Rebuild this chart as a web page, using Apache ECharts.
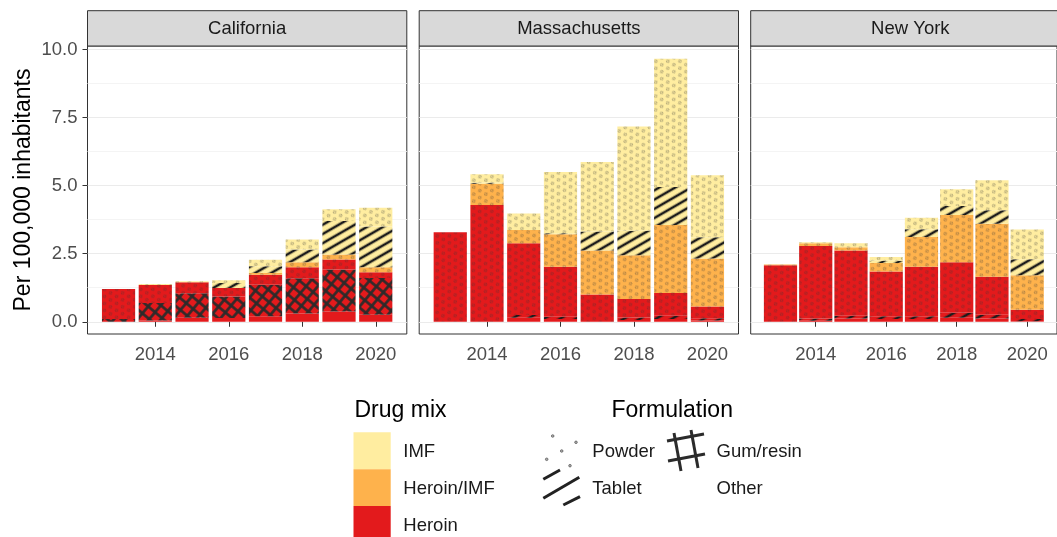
<!DOCTYPE html>
<html>
<head>
<meta charset="utf-8">
<script src="https://cdn.jsdelivr.net/npm/echarts@6/dist/echarts.min.js"></script>
<style>
  html, body { margin: 0; padding: 0; background: #fff; }
  #chart { width: 1057px; height: 537px; }
</style>
</head>
<body>
<div id="chart"></div>
<script>
// ---- data ----
const years = [2013, 2014, 2015, 2016, 2017, 2018, 2019, 2020];
const states = ['California', 'Massachusetts', 'New York'];
const xTicks = [2014, 2016, 2018, 2020];
const yTicks = [0, 2.5, 5, 7.5, 10];
const yMinorTicks = [1.25, 3.75, 6.25, 8.75];

// California
const caHeroinOther  = [0, 0.05, 0.15, 0.14, 0.20, 0.30, 0.38, 0.26];
const caHeroinGum    = [0.10, 0.64, 0.90, 0.79, 1.16, 1.30, 1.54, 1.35];
const caHeroinPowder = [1.10, 0.66, 0.40, 0.31, 0.37, 0.40, 0.37, 0.21];
const caMixPowder    = [0, 0, 0, 0, 0.06, 0.19, 0.18, 0.18];
const caImfTablet    = [0, 0, 0, 0.18, 0.25, 0.46, 1.23, 1.50];
const caImfPowder    = [0, 0.04, 0.04, 0.10, 0.24, 0.37, 0.43, 0.69];

// Massachusetts
const maHeroinOther  = [0, 0, 0.15, 0.10, 0, 0.06, 0.10, 0.05];
const maHeroinTablet = [0, 0, 0.10, 0.08, 0, 0.10, 0.12, 0.08];
const maHeroinPowder = [3.29, 4.29, 2.63, 1.84, 1.00, 0.68, 0.84, 0.43];
const maMixPowder    = [0, 0.78, 0.49, 1.19, 1.62, 1.60, 2.49, 1.76];
const maImfTablet    = [0, 0.04, 0, 0.04, 0.70, 0.90, 1.40, 0.78];
const maImfPowder    = [0, 0.31, 0.61, 2.25, 2.55, 3.83, 4.71, 2.28];

// New York
const nyHeroinOther  = [0, 0.04, 0.12, 0.10, 0.10, 0.15, 0.12, 0.02];
const nyHeroinTablet = [0, 0.08, 0.10, 0.10, 0.10, 0.18, 0.14, 0.08];
const nyHeroinPowder = [2.08, 2.66, 2.40, 1.65, 1.82, 1.86, 1.39, 0.34];
const nyMixPowder    = [0.02, 0.10, 0.12, 0.31, 1.09, 1.73, 1.95, 1.27];
const nyImfTablet    = [0, 0, 0, 0.08, 0.29, 0.33, 0.50, 0.59];
const nyImfPowder    = [0, 0.04, 0.14, 0.14, 0.42, 0.62, 1.10, 1.09];

// bottom -> top stacking order for each facet
const layers = [
  [['Heroin', 'Other', caHeroinOther], ['Heroin', 'Gum/resin', caHeroinGum], ['Heroin', 'Powder', caHeroinPowder],
   ['Heroin/IMF', 'Powder', caMixPowder], ['IMF', 'Tablet', caImfTablet], ['IMF', 'Powder', caImfPowder]],
  [['Heroin', 'Other', maHeroinOther], ['Heroin', 'Tablet', maHeroinTablet], ['Heroin', 'Powder', maHeroinPowder],
   ['Heroin/IMF', 'Powder', maMixPowder], ['IMF', 'Tablet', maImfTablet], ['IMF', 'Powder', maImfPowder]],
  [['Heroin', 'Other', nyHeroinOther], ['Heroin', 'Tablet', nyHeroinTablet], ['Heroin', 'Powder', nyHeroinPowder],
   ['Heroin/IMF', 'Powder', nyMixPowder], ['IMF', 'Tablet', nyImfTablet], ['IMF', 'Powder', nyImfPowder]]
];

const mixColors = { 'IMF': '#FFEDA0', 'Heroin/IMF': '#FEB24C', 'Heroin': '#E31A1C' };
const FONT = '"Liberation Sans", Arial, sans-serif';

// ---- pattern fills ----
const patternCache = {};
function fillFor(mix, form) {
  const base = mixColors[mix];
  if (form === 'Other') return base;
  const key = mix + '|' + form;
  if (patternCache[key]) return patternCache[key];
  const c = document.createElement('canvas');
  let rot = 0;
  if (form === 'Powder') {
    c.width = 7; c.height = 12;
    const ctx = c.getContext('2d');
    ctx.fillStyle = base; ctx.fillRect(0, 0, 7, 12);
    ctx.strokeStyle = 'rgba(60,60,60,0.45)'; ctx.lineWidth = 0.8;
    [[1.75, 3], [5.25, 9]].forEach(p => {
      ctx.beginPath(); ctx.arc(p[0], p[1], 1.3, 0, Math.PI * 2); ctx.stroke();
    });
    rot = -Math.PI / 6;
  } else if (form === 'Tablet') {
    c.width = 8; c.height = 8;
    const ctx = c.getContext('2d');
    ctx.fillStyle = base; ctx.fillRect(0, 0, 8, 8);
    ctx.fillStyle = '#1c1c1c'; ctx.fillRect(0, 2.7, 8, 2.6);
    rot = -Math.PI / 6;
  } else {
    c.width = 9; c.height = 9;
    const ctx = c.getContext('2d');
    ctx.fillStyle = base; ctx.fillRect(0, 0, 9, 9);
    ctx.fillStyle = '#2b2b2b';
    ctx.fillRect(0, 3.2, 9, 2.6);
    ctx.fillRect(3.2, 0, 2.6, 9);
    rot = Math.PI * 40 / 180;
  }
  patternCache[key] = { image: c, repeat: 'repeat', rotation: rot };
  return patternCache[key];
}

// ---- layout ----
const panelLeft = [87.5, 419.2, 750.7];
const panelW = 319.3, panelTop = 46, panelH = 288;

const grids = [], xAxes = [], yAxes = [], series = [], graphics = [];

states.forEach((st, i) => {
  grids.push({ left: panelLeft[i], top: panelTop, width: panelW, height: panelH,
    show: true, borderColor: '#333', borderWidth: 1, backgroundColor: '#fff' });
  xAxes.push({
    type: 'value', gridIndex: i, min: 2012.155, max: 2020.845,
    axisLine: { show: false },
    axisTick: { show: true, customValues: xTicks, length: 5, lineStyle: { color: '#333' } },
    axisLabel: { show: true, customValues: xTicks, formatter: v => String(v),
      fontSize: 18.5, color: '#4D4D4D', fontFamily: FONT, margin: 11 },
    splitLine: { show: false }
  });
  yAxes.push({
    type: 'value', gridIndex: i, min: -0.45, max: 10.13,
    axisLine: { show: false },
    axisTick: { show: i === 0, customValues: yTicks, length: 5, lineStyle: { color: '#333' } },
    axisLabel: { show: i === 0, customValues: yTicks, formatter: v => v.toFixed(1),
      fontSize: 18.5, color: '#4D4D4D', fontFamily: FONT, margin: 10 },
    splitLine: { show: true, lineStyle: { color: '#EBEBEB', width: 1.2 } }
  });
  yAxes.push({
    type: 'value', gridIndex: i, min: -0.45, max: 10.13,
    axisLine: { show: false },
    axisTick: { show: false, customValues: yMinorTicks },
    axisLabel: { show: false, customValues: yMinorTicks },
    splitLine: { show: true, lineStyle: { color: '#F4F4F4', width: 1 } }
  });

  layers[i].forEach(([mix, form, vals]) => {
    series.push({
      type: 'bar', name: mix + ' ' + form, xAxisIndex: i, yAxisIndex: 2 * i,
      stack: 'facet' + i, barWidth: 33.2, silent: true,
      itemStyle: { color: fillFor(mix, form) },
      // value first so the stacked dimension is the y value
      encode: { x: 1, y: 0 },
      data: years.map((y, k) => [vals[k], y])
    });
  });

  // strip header
  graphics.push({ type: 'rect', shape: { x: panelLeft[i], y: 10.7, width: panelW, height: 35.3 },
    style: { fill: '#D9D9D9', stroke: '#333', lineWidth: 1 }, z: 10 });
  graphics.push({ type: 'text', x: panelLeft[i] + panelW / 2, y: 29,
    style: { text: st, fill: '#1A1A1A', font: '18.5px ' + FONT, textAlign: 'center', textVerticalAlign: 'middle' }, z: 11 });
});

// y axis title
graphics.push({ type: 'text', x: 24, y: 190, rotation: Math.PI / 2,
  style: { text: 'Per 100,000 inhabitants', fill: '#000', font: '23px ' + FONT,
    textAlign: 'center', textVerticalAlign: 'middle' } });

// legend: drug mix
graphics.push({ type: 'text', x: 354.5, y: 411,
  style: { text: 'Drug mix', fill: '#000', font: '23px ' + FONT, textVerticalAlign: 'middle' } });
['IMF', 'Heroin/IMF', 'Heroin'].forEach((m, k) => {
  graphics.push({ type: 'rect', shape: { x: 353.5, y: 432.3 + k * 36.9, width: 37.2, height: 36.9 },
    style: { fill: mixColors[m] } });
  graphics.push({ type: 'text', x: 403.3, y: 452 + k * 36.9,
    style: { text: m, fill: '#1A1A1A', font: '18.5px ' + FONT, textVerticalAlign: 'middle' } });
});

// legend: formulation
graphics.push({ type: 'text', x: 611.5, y: 411,
  style: { text: 'Formulation', fill: '#000', font: '23px ' + FONT, textVerticalAlign: 'middle' } });
[[552.7, 436], [576, 442.3], [561.7, 451], [546.7, 459.3], [570, 465.7]].forEach(p => {
  graphics.push({ type: 'circle', shape: { cx: p[0], cy: p[1], r: 1.3 },
    style: { fill: '#aaa', stroke: '#555', lineWidth: 0.7 } });
});
[[543.3, 479.3, 560, 470], [543.3, 498.3, 579.3, 477.3], [563.3, 505, 580, 496.7]].forEach(l => {
  graphics.push({ type: 'line', shape: { x1: l[0], y1: l[1], x2: l[2], y2: l[3] },
    style: { stroke: '#222', lineWidth: 3 } });
});
[[667, 441, 704, 434], [668, 461, 705, 454], [674, 433, 681, 471], [691, 430, 698, 468]].forEach(l => {
  graphics.push({ type: 'line', shape: { x1: l[0], y1: l[1], x2: l[2], y2: l[3] },
    style: { stroke: '#2b2b2b', lineWidth: 3 } });
});
[['Powder', 592.3, 452], ['Tablet', 592.3, 489], ['Gum/resin', 716.5, 452], ['Other', 716.5, 489]].forEach(t => {
  graphics.push({ type: 'text', x: t[1], y: t[2],
    style: { text: t[0], fill: '#1A1A1A', font: '18.5px ' + FONT, textVerticalAlign: 'middle' } });
});

const chart = echarts.init(document.getElementById('chart'), null, { renderer: 'canvas' });
chart.setOption({
  animation: false,
  textStyle: { fontFamily: FONT },
  grid: grids,
  xAxis: xAxes,
  yAxis: yAxes,
  series: series,
  graphic: { elements: graphics }
});
</script>
</body>
</html>
